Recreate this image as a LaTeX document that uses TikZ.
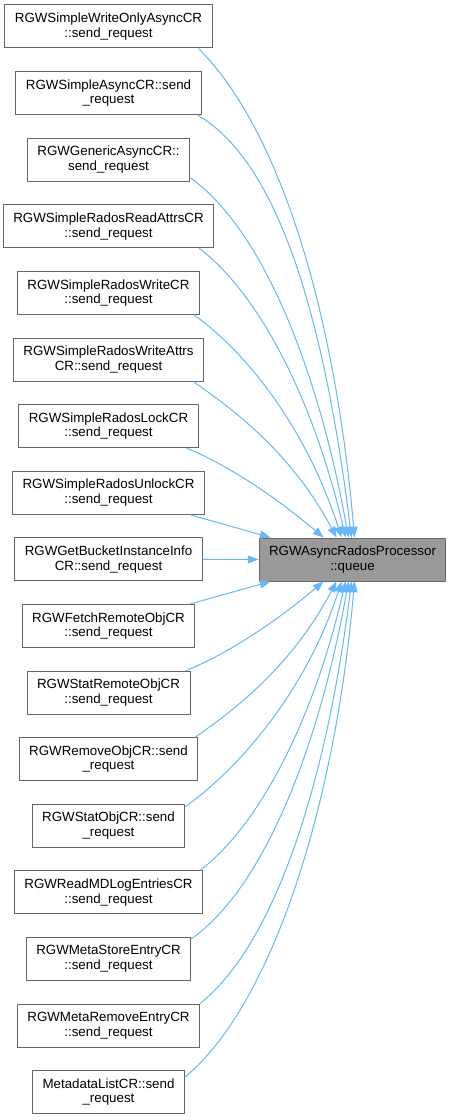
\documentclass[tikz,border=0pt]{standalone}
\usepackage{fontspec}
\setmainfont{Liberation Sans}
\usetikzlibrary{arrows.meta,calc}
\definecolor{edgeblue}{HTML}{63B8FF}
\definecolor{boxborder}{HTML}{666666}
\definecolor{boxfill}{HTML}{999999}
\begin{document}
\begin{tikzpicture}[x=0.75pt,y=-0.75pt,
  fn/.style={draw=boxborder, fill=white, line width=0.75pt, align=center,
    minimum height=32.25pt, inner xsep=7.5pt, inner ysep=0pt,
    font=\fontsize{10pt}{11pt}\selectfont},
  hl/.style={fn, fill=boxfill},
  conn/.style={draw=edgeblue, line width=0.75pt, -{Triangle[length=8pt,width=6pt]}}]
\fill[white] (0,0) rectangle (451,1120);
\useasboundingbox (0,0) rectangle (451,1120);

\node[fn] (n1)  at (108.5,26.5)   {RGWSimpleWriteOnlyAsyncCR\\::send\_request};
\node[fn] (n2)  at (108.5,93.1)   {RGWSimpleAsyncCR::send\\\_request};
\node[fn] (n3)  at (108.5,159.7)  {RGWGenericAsyncCR::\\send\_request};
\node[fn] (n4)  at (108.5,226.3)  {RGWSimpleRadosReadAttrsCR\\::send\_request};
\node[fn] (n5)  at (108.5,292.9)  {RGWSimpleRadosWriteCR\\::send\_request};
\node[fn] (n6)  at (108.5,359.5)  {RGWSimpleRadosWriteAttrs\\CR::send\_request};
\node[fn] (n7)  at (108.5,426.1)  {RGWSimpleRadosLockCR\\::send\_request};
\node[fn] (n8)  at (108.5,492.7)  {RGWSimpleRadosUnlockCR\\::send\_request};
\node[fn] (n9)  at (108.5,559.3)  {RGWGetBucketInstanceInfo\\CR::send\_request};
\node[fn] (n10) at (108.5,625.9)  {RGWFetchRemoteObjCR\\::send\_request};
\node[fn] (n11) at (108.5,692.5)  {RGWStatRemoteObjCR\\::send\_request};
\node[fn] (n12) at (108.5,759.1)  {RGWRemoveObjCR::send\\\_request};
\node[fn] (n13) at (108.5,825.7)  {RGWStatObjCR::send\\\_request};
\node[fn] (n14) at (108.5,892.3)  {RGWReadMDLogEntriesCR\\::send\_request};
\node[fn] (n15) at (108.5,958.9)  {RGWMetaStoreEntryCR\\::send\_request};
\node[fn] (n16) at (108.5,1025.5) {RGWMetaRemoveEntryCR\\::send\_request};
\node[fn] (n17) at (108.5,1092.1) {MetadataListCR::send\\\_request};

\node[hl] (q) at (352.5,559.5) {RGWAsyncRadosProcessor\\::queue};

% edges above
\draw[conn] ($(n1.south east)+(-14,0)$) .. controls +(80,80) and +(-20,-230) .. ($(q.north west)+(96,0)$);
\draw[conn] ($(n2.south east)+(-4,0)$) .. controls +(86,50) and +(-25,-201) .. ($(q.north west)+(93,0)$);
\draw[conn] ($(n3.south east)+(0,-4)$) .. controls +(70,49) and +(-31,-173) .. ($(q.north west)+(90,0)$);
\draw[conn] ($(n4.south east)+(-15,0)$) .. controls +(57,43) and +(-33,-143) .. ($(q.north west)+(87,0)$);
\draw[conn] ($(n5.south east)+(-6,0)$) .. controls +(48,34) and +(-37,-115) .. ($(q.north west)+(83,0)$);
\draw[conn] ($(n6.south east)+(-11,0)$) .. controls +(39,27) and +(-45,-85) .. ($(q.north west)+(78,0)$);
\draw[conn] ($(n7.south east)+(-12,0)$) .. controls +(34,14) and +(-57,-48) .. ($(q.north west)+(65,0)$);
\draw[conn] ($(n8.south east)+(-15,0)$) -- ($(q.north west)+(12,0)$);
% middle
\draw[conn] (n9.east) -- (q.west);
% edges below
\draw[conn] ($(n10.north east)+(-5,0)$) -- ($(q.south west)+(12,0)$);
\draw[conn] ($(n11.north east)+(-4,0)$) .. controls +(34,-14) and +(-57,48) .. ($(q.south west)+(65,0)$);
\draw[conn] ($(n12.north east)+(-3,0)$) .. controls +(39,-27) and +(-45,85) .. ($(q.south west)+(78,0)$);
\draw[conn] ($(n13.north east)+(0,3)$) .. controls +(48,-34) and +(-37,115) .. ($(q.south west)+(83,0)$);
\draw[conn] ($(n14.north east)+(-3,0)$) .. controls +(57,-43) and +(-33,143) .. ($(q.south west)+(87,0)$);
\draw[conn] ($(n15.north east)+(0,2)$) .. controls +(70,-49) and +(-31,173) .. ($(q.south west)+(90,0)$);
\draw[conn] (n16.north east) .. controls +(75,-60) and +(-25,201) .. ($(q.south west)+(93,0)$);
\draw[conn] ($(n17.north east)+(0,7)$) .. controls +(85,-70) and +(-20,230) .. ($(q.south west)+(96,0)$);
\end{tikzpicture}
\end{document}
